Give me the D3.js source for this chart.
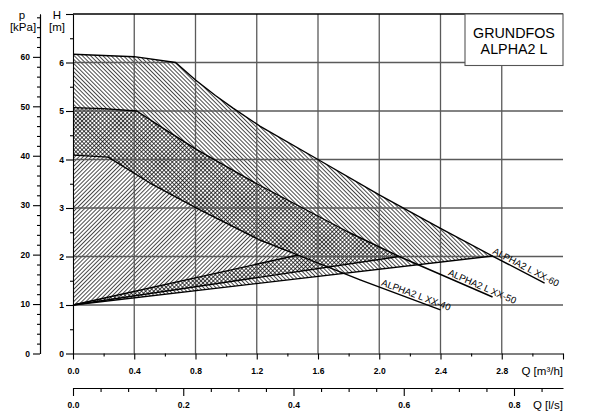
<!DOCTYPE html>
<html><head><meta charset="utf-8">
<script src="https://cdn.jsdelivr.net/npm/d3@7"></script>
<style>body{margin:0;background:#fff}svg{display:block;font-family:"Liberation Sans",Arial,sans-serif}</style>
</head><body><svg id="c" width="598" height="417"></svg>
<script>
// ---------- data ----------
const qTicksM3h = [0, 0.4, 0.8, 1.2, 1.6, 2.0, 2.4, 2.8];
const qTicksLs = [0, 0.2, 0.4, 0.6, 0.8];
const hTicks = [0, 1, 2, 3, 4, 5, 6];
const pTicks = [0, 10, 20, 30, 40, 50, 60];
const pumpNames = ["ALPHA2 L XX-60", "ALPHA2 L XX-50", "ALPHA2 L XX-40"];
const titleLines = ["GRUNDFOS", "ALPHA2 L"];

// [Q m3/h, H m]
const max60 = [[0,6.17],[0.4,6.12],[0.67,6.0],[0.8,5.64],[0.93,5.32],[1.045,5.06],[1.22,4.69],[1.6,4.0],[2.0,3.27],[2.4,2.58],[2.74,2.01]];
const lead60 = [[2.74,2.01],[3.08,1.45]];
const min60 = [[0,1],[2.74,2.01]];
const max50 = [[0,5.07],[0.2,5.05],[0.416,5.0],[0.6,4.62],[0.8,4.22],[1.0,3.86],[1.2,3.5],[1.5,3.0],[1.8,2.5],[2.13,2.0]];
const lead50 = [[2.13,2.0],[2.74,1.165]];
const min50 = [[0,1],[2.13,2.0]];
const max40 = [[0,4.09],[0.23,4.05],[0.5,3.52],[0.81,2.99],[1.22,2.34],[1.47,2.03]];
const lead40 = [[1.47,2.03],[1.875,1.52],[2.4,0.9]];
const min40 = [[0,1],[1.47,2.03]];
const labelQ = [2.73, 2.44, 2.005];

// ---------- layout ----------
const svg = d3.select("#c");
const x = d3.scaleLinear([0, 3.2], [73, 563]);
const y = d3.scaleLinear([0, 7], [353.5, 14]);
const yP = d3.scaleLinear([0, 7 * 9.81], [353.5, 14]);
const xL = d3.scaleLinear([0, 3.2 / 3.6], [73, 563]);
const line = d3.line().x(d => x(d[0])).y(d => y(d[1]));

// patterns
const defs = svg.append("defs");
function hatch(id, angle, cross) {
  const s = 2.9;
  const p = defs.append("pattern").attr("id", id).attr("patternUnits", "userSpaceOnUse")
    .attr("width", s).attr("height", s).attr("patternTransform", `rotate(${angle})`);
  p.append("rect").attr("width", s).attr("height", s).attr("fill", "#fff");
  p.append("line").attr("x1", s/2).attr("x2", s/2).attr("y1", -1).attr("y2", s+1)
    .attr("stroke", "#000").attr("stroke-width", 0.7);
  if (cross) p.append("line").attr("y1", s/2).attr("y2", s/2).attr("x1", -1).attr("x2", s+1)
    .attr("stroke", "#000").attr("stroke-width", 0.7);
}
hatch("h60", -45, false);
hatch("h50", 45, true);
hatch("h40", 45, false);

const pumps = [
  {max: max60, lead: lead60, min: min60, fill: "url(#h60)"},
  {max: max50, lead: lead50, min: min50, fill: "url(#h50)"},
  {max: max40, lead: lead40, min: min40, fill: "url(#h40)"}
];

// regions: max curve to the tip, then back along the min line to (0,1)
pumps.forEach(p => {
  const pts = p.max.concat(p.min.slice().reverse());
  svg.append("path").attr("d", line(pts) + "Z").attr("fill", p.fill).attr("stroke", "none");
});

// gridlines
const grid = svg.append("g").attr("stroke", "#5a5a5a").attr("stroke-width", 1.3);
grid.selectAll("line.v").data(qTicksM3h.filter(d => d > 0)).join("line")
  .attr("x1", d => x(d)).attr("x2", d => x(d)).attr("y1", y(0)).attr("y2", y(7));
grid.selectAll("line.h").data(hTicks.filter(d => d > 0)).join("line")
  .attr("x1", x(0)).attr("x2", x(3.2)).attr("y1", d => y(d)).attr("y2", d => y(d));
svg.append("line").attr("x1", x(0)).attr("x2", x(3.2)).attr("y1", y(7)).attr("y2", y(7))
  .attr("stroke", "#000").attr("stroke-width", 1.3);

// curve outlines
pumps.forEach(p => {
  svg.append("path").attr("d", line(p.max.concat(p.lead.slice(1)))).attr("fill", "none")
    .attr("stroke", "#000").attr("stroke-width", 1.4).attr("stroke-linejoin", "round");
  svg.append("path").attr("d", line(p.min)).attr("fill", "none")
    .attr("stroke", "#000").attr("stroke-width", 1.4);
});

// pump labels
pumps.forEach((p, i) => {
  const L = p.lead;
  let a = L[L.length - 2], b = L[L.length - 1];
  const q = labelQ[i];
  for (let k = 0; k < L.length - 1; k++) if (q >= L[k][0] && q <= L[k+1][0]) { a = L[k]; b = L[k+1]; }
  const t = (q - a[0]) / (b[0] - a[0]);
  const h = a[1] + t * (b[1] - a[1]);
  const ang = Math.atan2(y(b[1]) - y(a[1]), x(b[0]) - x(a[0])) * 180 / Math.PI;
  svg.append("text").attr("transform", `translate(${x(q)},${y(h)}) rotate(${ang})`)
    .attr("y", -2.2).attr("font-size", 9.5).attr("fill", "#000").text(pumpNames[i]);
});

// axes
function styleAxis(g) {
  g.attr("font-family", null).attr("font-size", 8.5).attr("font-weight", "bold");
  g.selectAll("line,path").attr("stroke", "#000").attr("stroke-width", 1.1);
  g.selectAll("text").attr("fill", "#000");
}
const fmt1 = d3.format(".1f");
// Q m3/h axis
svg.append("g").attr("transform", `translate(0,${y(0)})`)
  .call(d3.axisBottom(x).tickValues(qTicksM3h.concat([3.2])).tickFormat(d => d > 3 ? "" : fmt1(d))
    .tickSize(6).tickSizeOuter(0).tickPadding(8)).call(styleAxis);
svg.append("g").attr("transform", `translate(0,${y(0)})`)
  .call(d3.axisBottom(x).tickValues(d3.range(0.2, 3.1, 0.4)).tickFormat("").tickSize(3).tickSizeOuter(0))
  .call(styleAxis).call(g => g.select(".domain").remove());
// Q l/s axis
svg.append("g").attr("transform", "translate(0,388)")
  .call(d3.axisBottom(xL).tickValues(qTicksLs).tickFormat(fmt1).tickSize(8).tickSizeOuter(0).tickPadding(5.6))
  .call(styleAxis);
svg.append("g").attr("transform", "translate(0,388)")
  .call(d3.axisBottom(xL).tickValues(d3.range(0, 0.86, 0.05).filter(d => Math.abs(d*5 - Math.round(d*5)) > 1e-6))
    .tickFormat("").tickSize(4).tickSizeOuter(0))
  .call(styleAxis).call(g => g.select(".domain").remove());
// H axis
svg.append("g").attr("transform", `translate(${x(0)},0)`)
  .call(d3.axisLeft(y).tickValues(hTicks.concat([7])).tickFormat(d => d > 6 ? "" : d).tickSize(7).tickSizeOuter(0).tickPadding(2))
  .call(styleAxis);
svg.append("g").attr("transform", `translate(${x(0)},0)`)
  .call(d3.axisLeft(y).tickValues(d3.range(0.5, 7, 1)).tickFormat("").tickSize(3).tickSizeOuter(0))
  .call(styleAxis).call(g => g.select(".domain").remove());
// p axis
svg.append("g").attr("transform", "translate(40,0)")
  .call(d3.axisLeft(yP).tickValues(pTicks).tickSize(7).tickSizeOuter(0).tickPadding(3))
  .call(styleAxis);
svg.append("g").attr("transform", "translate(40,0)")
  .call(d3.axisLeft(yP).tickValues(d3.range(2, 69, 2).filter(d => d % 10 !== 0)).tickFormat("").tickSize(3).tickSizeOuter(0))
  .call(styleAxis);

// axis titles
const at = svg.append("g").attr("font-size", 11.5).attr("fill", "#000");
at.append("text").attr("x", 22).attr("y", 19.3).attr("text-anchor", "middle").text("p");
at.append("text").attr("x", 23).attr("y", 31).attr("text-anchor", "middle").text("[kPa]");
at.append("text").attr("x", 57).attr("y", 19.3).attr("text-anchor", "middle").text("H");
at.append("text").attr("x", 57).attr("y", 31).attr("text-anchor", "middle").text("[m]");
at.append("text").attr("x", 563).attr("y", 375).attr("text-anchor", "end").text("Q [m³/h]");
at.append("text").attr("x", 563).attr("y", 409).attr("text-anchor", "end").text("Q [l/s]");

// title box
svg.append("rect").attr("x", 465).attr("y", 14).attr("width", 98).attr("height", 51.5)
  .attr("fill", "#fff").attr("stroke", "#555").attr("stroke-width", 1.1);
svg.append("g").attr("font-size", 14.3).attr("text-anchor", "middle").attr("fill", "#000")
  .selectAll("text").data(titleLines).join("text")
  .attr("x", 514).attr("y", (d, i) => 38 + i * 16).text(d => d);
</script></body></html>
